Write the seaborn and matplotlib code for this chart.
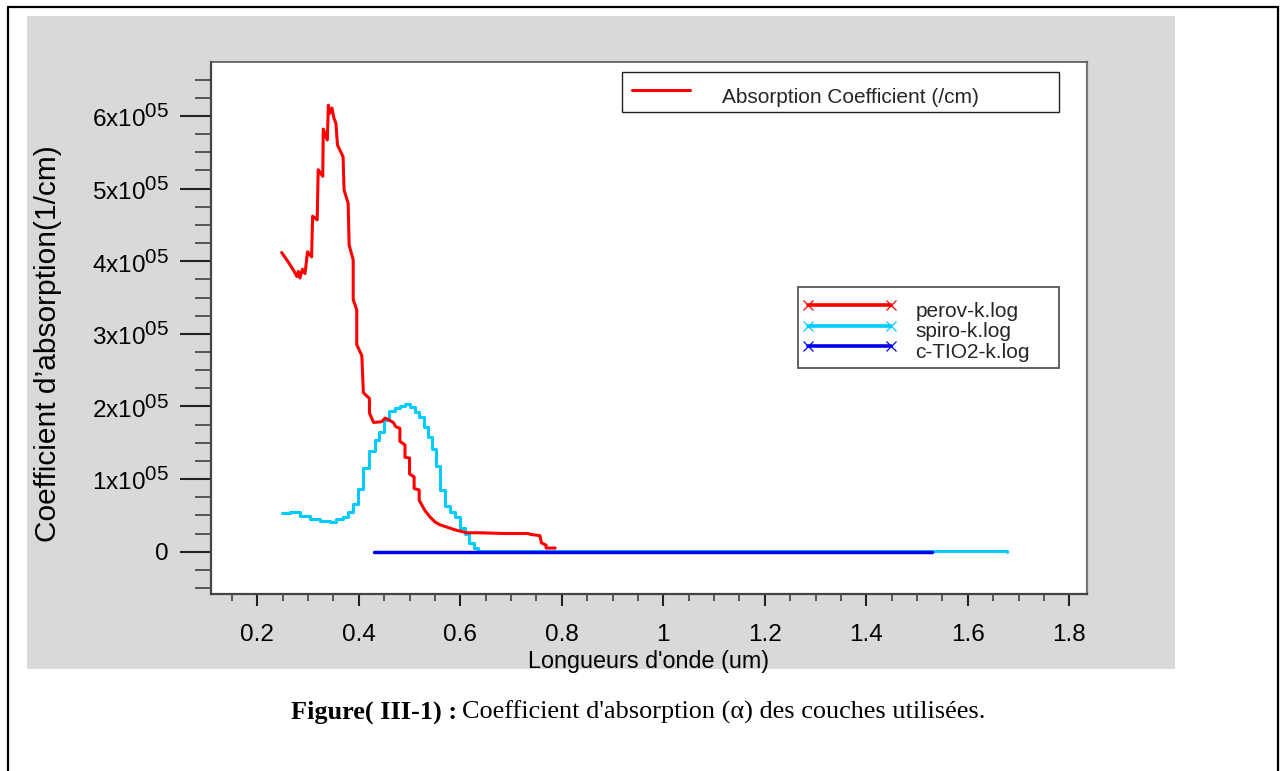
import matplotlib
matplotlib.use("Agg")
import matplotlib.pyplot as plt
import matplotlib._mathtext as _mt
import seaborn as sns
from matplotlib.lines import Line2D
from matplotlib.patches import Rectangle
from matplotlib.ticker import FixedLocator, MultipleLocator, FixedFormatter
from matplotlib.legend_handler import HandlerLine2D

# ---------------- data ----------------
perov_wl = [0.248, 0.261, 0.271, 0.278, 0.281, 0.284, 0.289, 0.294, 0.299, 0.307,
            0.309, 0.318, 0.320, 0.329, 0.330, 0.338, 0.340, 0.343, 0.347, 0.351,
            0.355, 0.358, 0.369, 0.371, 0.379, 0.381, 0.389, 0.389, 0.396, 0.396,
            0.406, 0.409, 0.421, 0.421, 0.429, 0.445, 0.452, 0.468, 0.473, 0.481,
            0.481, 0.491, 0.491, 0.500, 0.500, 0.509, 0.509, 0.519, 0.519, 0.530,
            0.540, 0.550, 0.560, 0.573, 0.590, 0.613, 0.639, 0.688, 0.734, 0.737,
            0.757, 0.760, 0.769, 0.769, 0.787]
perov_alpha = [4.12e5, 3.99e5, 3.88e5, 3.79e5, 3.86e5, 3.77e5, 3.89e5, 3.83e5, 4.13e5, 4.06e5,
               4.62e5, 4.57e5, 5.26e5, 5.17e5, 5.82e5, 5.67e5, 6.15e5, 6.04e5, 6.11e5, 5.97e5,
               5.90e5, 5.60e5, 5.44e5, 4.98e5, 4.80e5, 4.22e5, 4.02e5, 3.47e5, 3.33e5, 2.85e5,
               2.70e5, 2.19e5, 2.11e5, 1.91e5, 1.78e5, 1.79e5, 1.84e5, 1.78e5, 1.72e5, 1.70e5,
               1.52e5, 1.47e5, 1.30e5, 1.29e5, 1.07e5, 1.03e5, 0.87e5, 0.85e5, 0.71e5, 0.57e5,
               0.48e5, 0.41e5, 0.37e5, 0.34e5, 0.30e5, 0.26e5, 0.26e5, 0.25e5, 0.25e5, 0.24e5,
               0.22e5, 0.12e5, 0.09e5, 0.05e5, 0.05e5]

spiro_wl = [0.249, 0.264, 0.284, 0.304, 0.324, 0.343, 0.356, 0.369, 0.379, 0.389,
            0.399, 0.409, 0.421, 0.431, 0.440, 0.450, 0.460, 0.471, 0.481, 0.491,
            0.501, 0.511, 0.519, 0.528, 0.537, 0.544, 0.552, 0.560, 0.570, 0.580,
            0.590, 0.599, 0.609, 0.618, 0.627, 0.635, 1.677]
spiro_alpha = [0.53e5, 0.55e5, 0.49e5, 0.45e5, 0.42e5, 0.41e5, 0.45e5, 0.48e5, 0.54e5, 0.66e5,
               0.87e5, 1.15e5, 1.38e5, 1.54e5, 1.65e5, 1.82e5, 1.94e5, 1.98e5, 2.01e5, 2.03e5,
               1.99e5, 1.93e5, 1.85e5, 1.72e5, 1.58e5, 1.42e5, 1.18e5, 0.85e5, 0.63e5, 0.55e5,
               0.48e5, 0.32e5, 0.25e5, 0.12e5, 0.05e5, 0.01e5, 0.0]

tio2_wl = [0.429, 1.529]
tio2_alpha = [0.0, 0.0]

series_names = ["perov-k.log", "spiro-k.log", "c-TIO2-k.log"]
top_legend_label = "Absorption Coefficient (/cm)"

xtick_values = [0.2, 0.4, 0.6, 0.8, 1.0, 1.2, 1.4, 1.6, 1.8]
xtick_labels = ["0.2", "0.4", "0.6", "0.8", "1", "1.2", "1.4", "1.6", "1.8"]
ytick_values = [0, 1e5, 2e5, 3e5, 4e5, 5e5, 6e5]
ytick_labels = ["0", "1x10$^{05}$", "2x10$^{05}$", "3x10$^{05}$",
                "4x10$^{05}$", "5x10$^{05}$", "6x10$^{05}$"]

xlabel = "Longueurs d'onde (um)"
ylabel = "Coefficient d\u2019absorption(1/cm)"
caption_bold = "Figure( III-1) :"
caption_rest = "Coefficient d'absorption (\u03b1) des couches utilis\u00e9es."

# ---------------- style ----------------
sns.set_theme(style="white")
plt.rcParams["font.family"] = ["Liberation Sans", "DejaVu Sans"]
plt.rcParams["mathtext.fontset"] = "custom"
plt.rcParams["mathtext.rm"] = "Liberation Sans"
plt.rcParams["mathtext.it"] = "Liberation Sans:italic"
plt.rcParams["mathtext.bf"] = "Liberation Sans:bold"
_mt.SHRINK_FACTOR = 0.85  # larger exponent text, as in the reference

RED = "#ff0000"
CYAN = "#00ccff"
BLUE = "#0000ee"

W, H = 1285, 771
fig = plt.figure(figsize=(W / 100, H / 100), dpi=100)
fig.patch.set_facecolor("white")

# gray panel behind the chart
fig.add_artist(Rectangle((26.7 / W, 1 - 669 / H), (1175 - 26.7) / W, (669 - 15.7) / H,
                         transform=fig.transFigure, facecolor="#d9d9d9",
                         edgecolor="none", zorder=-10))
# outer page frame (left, top, right)
fig.add_artist(Line2D([7.5 / W, 7.5 / W], [0, 1 - 6.5 / H], transform=fig.transFigure,
                      color="black", lw=1.6, zorder=-5))
fig.add_artist(Line2D([7.5 / W, 1277.5 / W], [1 - 6.5 / H, 1 - 6.5 / H],
                      transform=fig.transFigure, color="black", lw=1.6, zorder=-5))
fig.add_artist(Line2D([1277.5 / W, 1277.5 / W], [0, 1 - 6.5 / H], transform=fig.transFigure,
                      color="black", lw=1.6, zorder=-5))

L, R, T, B = 210.7, 1087.3, 61.7, 594.3
ax = fig.add_axes([L / W, 1 - B / H, (R - L) / W, (B - T) / H])
ax.set_facecolor("white")

sns.lineplot(x=spiro_wl, y=spiro_alpha, ax=ax, color=CYAN, lw=2.2, sort=False,
             estimator=None, drawstyle="steps-post", legend=False)
sns.lineplot(x=tio2_wl, y=tio2_alpha, ax=ax, color=BLUE, lw=2.5, sort=False,
             estimator=None, legend=False)
sns.lineplot(x=perov_wl, y=perov_alpha, ax=ax, color=RED, lw=2.2, sort=False,
             estimator=None, legend=False)

ax.set_xlim(0.1082, 1.8355)
ax.set_ylim(-0.587e5, 6.748e5)

ax.xaxis.set_major_locator(FixedLocator(xtick_values))
ax.xaxis.set_major_formatter(FixedFormatter(xtick_labels))
ax.xaxis.set_minor_locator(MultipleLocator(0.05))
ax.yaxis.set_major_locator(FixedLocator(ytick_values))
ax.yaxis.set_major_formatter(FixedFormatter(ytick_labels))
ax.yaxis.set_minor_locator(MultipleLocator(0.25e5))

ax.tick_params(which="both", bottom=True, left=True, top=False, right=False, direction="out")
ax.tick_params(axis="y", which="major", length=22.3, width=1.5, color="#222222",
               pad=8, labelsize=17.5, labelcolor="black")
ax.tick_params(axis="y", which="minor", length=11.5, width=1.1, color="#333333")
ax.tick_params(axis="x", which="major", length=8.7, width=1.5, color="#222222",
               pad=12.5, labelsize=17.5, labelcolor="black")
ax.tick_params(axis="x", which="minor", length=5, width=1.1, color="#333333")

for side, col, lw in [("left", "#444444", 1.6), ("bottom", "#444444", 1.6),
                      ("top", "#555555", 1.2), ("right", "#777777", 1.6)]:
    ax.spines[side].set_visible(True)
    ax.spines[side].set_color(col)
    ax.spines[side].set_linewidth(lw)

ax.set_xlabel(xlabel, fontsize=16.8, color="black")
ax.xaxis.set_label_coords(0.5, -0.1265)
ax.xaxis.label.set_va("center")
ax.set_ylabel(ylabel, fontsize=21.5, color="black")
ax.yaxis.set_label_coords(-0.1855, 0.47)
ax.yaxis.label.set_va("center")
ax.yaxis.label.set_ha("center")

# top legend
h_top = Line2D([], [], color=RED, lw=2.2)
leg1 = ax.legend(handles=[h_top], labels=[top_legend_label], loc="upper left",
                 bbox_to_anchor=(0.4689, 0.9812, 0.4988, 0.0), mode="expand",
                 borderaxespad=0, borderpad=0.5, handlelength=2.8, handletextpad=1.5,
                 fontsize=15, frameon=True, fancybox=False, shadow=False, framealpha=1)
leg1.get_frame().set_edgecolor("#222222")
leg1.get_frame().set_linewidth(1.0)
for t in leg1.get_texts():
    t.set_y(-6)
ax.add_artist(leg1)

# series legend
handles = [Line2D([], [], color=c, lw=2.6, marker="x", markersize=7,
                  markeredgewidth=0.9) for c in (RED, CYAN, BLUE)]
leg2 = ax.legend(handles=handles, labels=series_names, loc="upper left",
                 bbox_to_anchor=(0.670, 0.5764, 0.2977, 0.0), mode="expand",
                 borderaxespad=0, borderpad=0.5, handlelength=3.94, handletextpad=1.2,
                 labelspacing=0.07, numpoints=2, fontsize=15, frameon=True,
                 fancybox=False, shadow=False, framealpha=1,
                 handler_map={Line2D: HandlerLine2D(marker_pad=0.0)})
leg2.get_frame().set_edgecolor("#555555")
leg2.get_frame().set_linewidth(1.3)
for t in leg2.get_texts():
    t.set_y(-4)

# caption
cap_family = ["Liberation Serif", "DejaVu Serif"]
t_bold = fig.text(290.7 / W, 1 - 719 / H, caption_bold, fontsize=18.9, fontweight="bold",
                  family=cap_family, ha="left", va="baseline", color="black")
ax.annotate(caption_rest, xy=(1, 0), xycoords=t_bold, xytext=(4, 0),
            textcoords="offset points", ha="left", va="bottom", fontsize=18.9,
            family=cap_family, color="black", annotation_clip=False)

fig.savefig("out.png", dpi=100, facecolor="white")
